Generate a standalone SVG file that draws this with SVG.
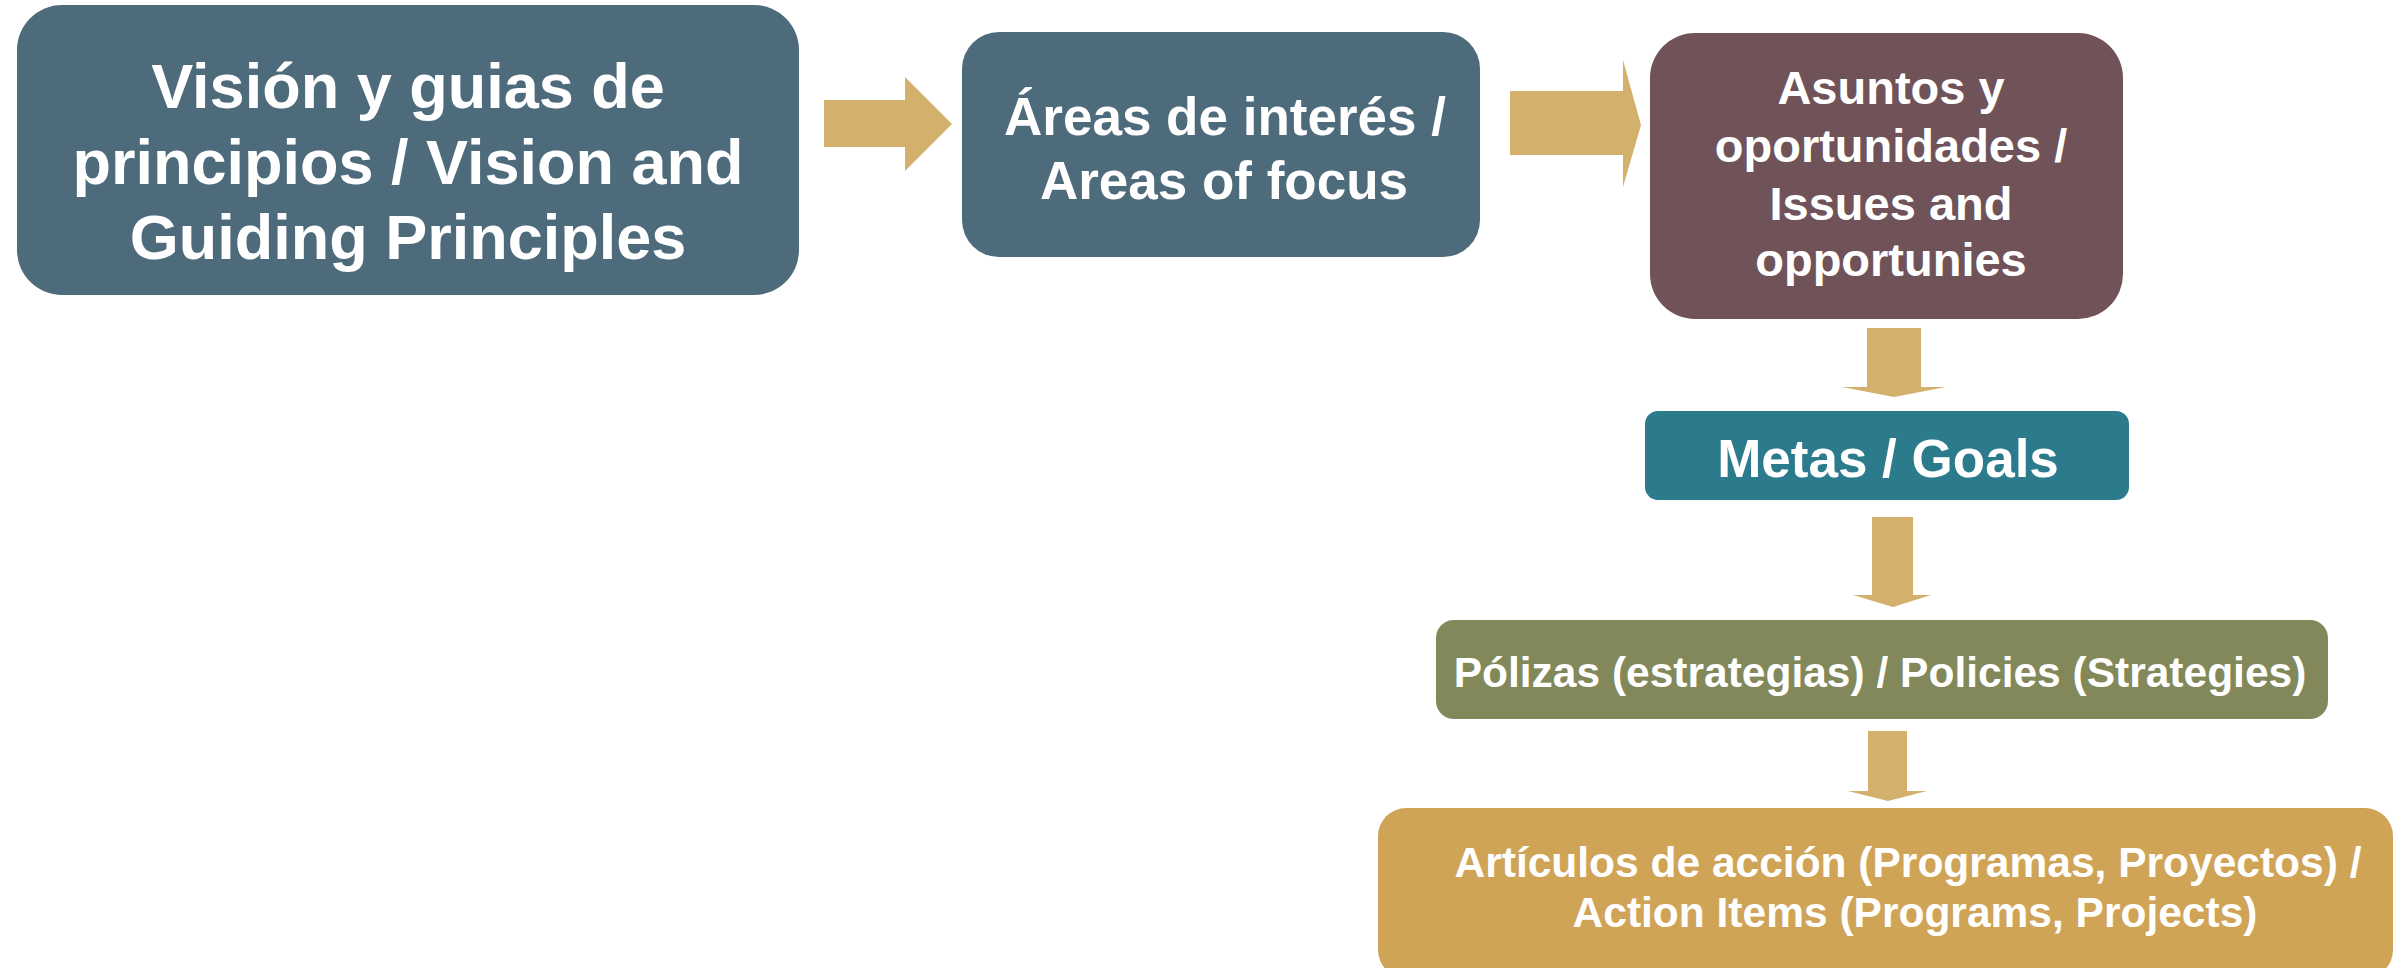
<svg xmlns="http://www.w3.org/2000/svg" width="2394" height="968" viewBox="0 0 2394 968">
<style>
.t{font-family:"Liberation Sans",Arial,sans-serif;font-weight:bold;fill:#ffffff;text-anchor:middle}
.arr{fill:#D4B06D}
</style>
<rect width="2394" height="968" fill="#ffffff"/>
<g id="connectors">
<polygon class="arr" points="824,100 905,100 905,77 952,124 905,171 905,147 824,147"/>
<polygon class="arr" points="1510,91 1623,91 1623,60 1641,125 1623,187 1623,155 1510,155"/>
<polygon class="arr" points="1867,328 1921,328 1921,387 1946,387 1894,397 1842,387 1867,387"/>
<polygon class="arr" points="1872,517 1913,517 1913,595 1931,595 1893,607 1853,595 1872,595"/>
<polygon class="arr" points="1868,731 1907,731 1907,791 1927,791 1888,801 1848,791 1868,791"/>
</g>
<g id="vision">
<rect x="17" y="5" width="782" height="290" rx="45" fill="#4D6B7B"/>
<text class="t" font-size="63"><tspan x="408" y="108">Visión y guias de</tspan><tspan x="408" y="184">principios / Vision and</tspan><tspan x="408" y="259">Guiding Principles</tspan></text>
</g>
<g id="areas">
<rect x="962" y="32" width="518" height="225" rx="37" fill="#4D6B7B"/>
<text class="t" font-size="53"><tspan x="1225" y="135">Áreas de interés /</tspan><tspan x="1224" y="199">Areas of focus</tspan></text>
</g>
<g id="asuntos">
<rect x="1650" y="33" width="473" height="286" rx="45" fill="#705359"/>
<text class="t" font-size="47"><tspan x="1891" y="104">Asuntos y</tspan><tspan x="1891" y="162">oportunidades /</tspan><tspan x="1891" y="220">Issues and</tspan><tspan x="1891" y="276">opportunies</tspan></text>
</g>
<g id="metas">
<rect x="1645" y="411" width="484" height="89" rx="13" fill="#2C7B8C"/>
<text class="t" font-size="53" x="1888" y="477">Metas / Goals</text>
</g>
<g id="polizas">
<rect x="1436" y="620" width="892" height="99" rx="18" fill="#82885A"/>
<text class="t" font-size="42.5" x="1880" y="687">Pólizas (estrategias) / Policies (Strategies)</text>
</g>
<g id="articulos">
<rect x="1378" y="808" width="1015" height="170" rx="28" fill="#D0A457"/>
<text class="t" font-size="42.5"><tspan x="1908" y="877">Artículos de acción (Programas, Proyectos) /</tspan><tspan x="1915" y="927">Action Items (Programs, Projects)</tspan></text>
</g>
</svg>
